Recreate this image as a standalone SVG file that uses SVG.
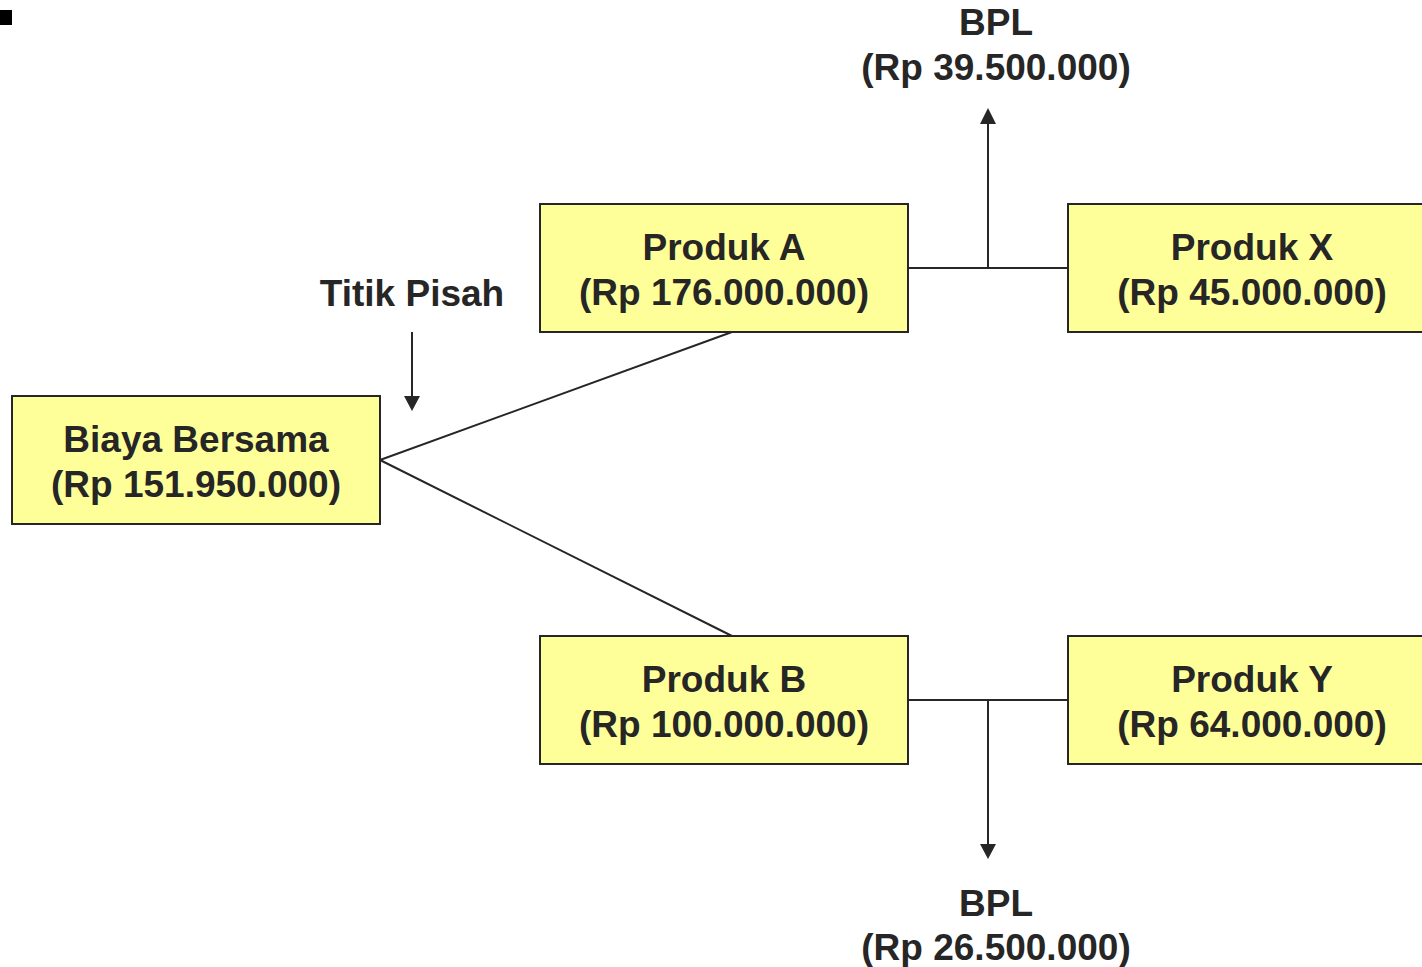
<svg xmlns="http://www.w3.org/2000/svg" width="1422" height="967" viewBox="0 0 1422 967">
<style>
.box{fill:#FFFF99;stroke:#262626;stroke-width:2}
.t{font-family:"Liberation Sans",Arial,sans-serif;font-weight:bold;font-size:37px;fill:#262626;text-anchor:middle}
.ln{stroke:#262626;stroke-width:2;fill:none}
</style>
<defs>
<marker id="ah" markerWidth="16" markerHeight="16" refX="8" refY="15" orient="auto-start-reverse" markerUnits="userSpaceOnUse" viewBox="0 0 16 16">
<path d="M0,0 L16,0 L8,15 Z" fill="#262626"/>
</marker>
</defs>
<rect x="0" y="10" width="12" height="15" fill="#000"/>
<g id="connectors">
<line class="ln" x1="380" y1="460" x2="732" y2="332"/>
<line class="ln" x1="380" y1="460" x2="732" y2="636"/>
<line class="ln" x1="908" y1="268" x2="1068" y2="268"/>
<line class="ln" x1="908" y1="700" x2="1068" y2="700"/>
<path d="M988,268 V124" class="ln"/>
<path d="M980,124 L996,124 L988,108 Z" fill="#262626"/>
<path d="M988,700 V844" class="ln"/>
<path d="M980,844 L996,844 L988,859 Z" fill="#262626"/>
<path d="M412,332 V396" class="ln"/>
<path d="M404,396 L420,396 L412,411 Z" fill="#262626"/>
</g>
<g id="biaya"><rect class="box" x="12" y="396" width="368" height="128"/><text class="t" x="196" y="452">Biaya Bersama</text><text class="t" x="196" y="497">(Rp 151.950.000)</text></g>
<g id="produkA"><rect class="box" x="540" y="204" width="368" height="128"/><text class="t" x="724" y="260">Produk A</text><text class="t" x="724" y="305">(Rp 176.000.000)</text></g>
<g id="produkB"><rect class="box" x="540" y="636" width="368" height="128"/><text class="t" x="724" y="692">Produk B</text><text class="t" x="724" y="737">(Rp 100.000.000)</text></g>
<g id="produkX"><rect class="box" x="1068" y="204" width="368" height="128"/><text class="t" x="1252" y="260">Produk X</text><text class="t" x="1252" y="305">(Rp 45.000.000)</text></g>
<g id="produkY"><rect class="box" x="1068" y="636" width="368" height="128"/><text class="t" x="1252" y="692">Produk Y</text><text class="t" x="1252" y="737">(Rp 64.000.000)</text></g>
<g id="bplTop"><text class="t" x="996" y="35">BPL</text><text class="t" x="996" y="80">(Rp 39.500.000)</text></g>
<g id="bplBottom"><text class="t" x="996" y="916">BPL</text><text class="t" x="996" y="960">(Rp 26.500.000)</text></g>
<g id="titikPisah"><text class="t" x="412" y="306">Titik Pisah</text></g>
</svg>
